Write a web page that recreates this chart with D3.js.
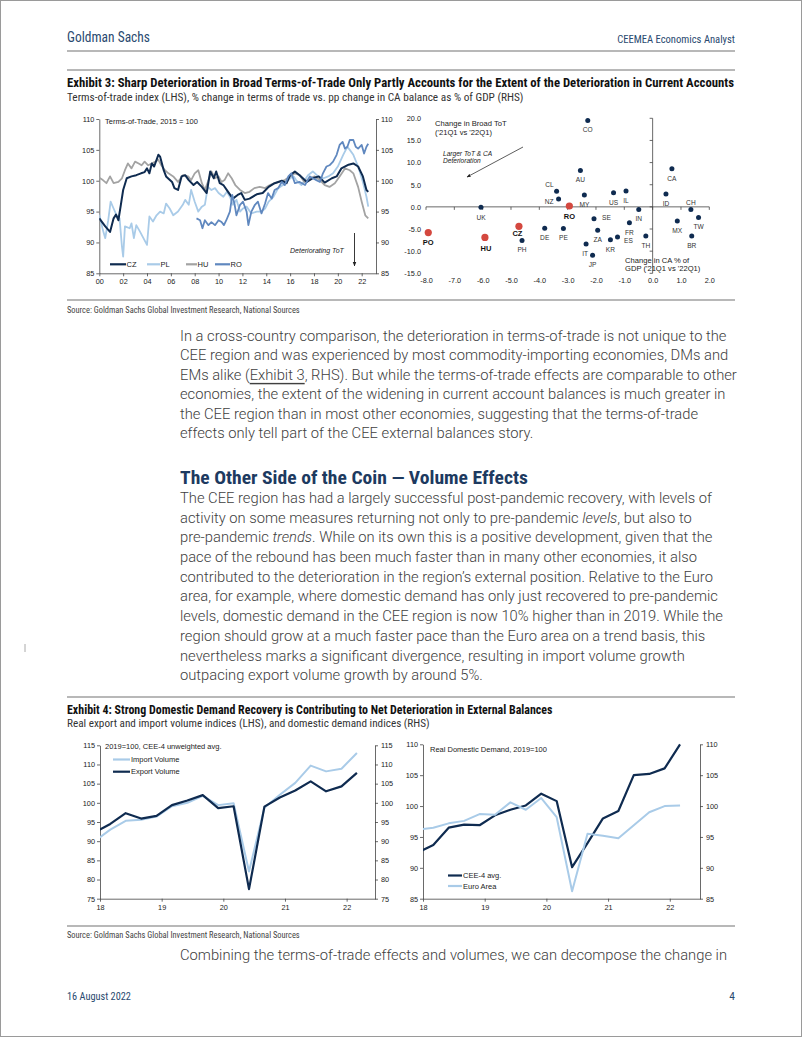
<!DOCTYPE html>
<html><head><meta charset="utf-8">
<script src="https://cdn.jsdelivr.net/npm/d3@7"></script>
<style>
body{margin:0;background:#fff}
svg{display:block}
</style>
</head><body>
<svg id="page" width="802" height="1037"></svg>
<script>
// ---------------- DATA ----------------
// Exhibit 3 LHS: terms-of-trade index, 2015 = 100 ([year, value])
const totCZ = [[2000.0,93.9],[2000.5,92.6],[2000.9,91.7],[2001.2,93.9],[2001.4,94.5],[2001.6,93.6],[2001.8,96.0],[2002.0,98.5],[2002.3,100.4],[2002.7,100.7],[2003.1,100.9],[2003.5,101.2],[2003.8,101.4],[2004.0,102.0],[2004.2,101.2],[2004.4,102.8],[2004.6,102.3],[2004.95,104.2],[2005.1,103.9],[2005.4,101.7],[2005.6,100.7],[2006.1,99.8],[2006.3,98.8],[2006.6,98.5],[2006.9,100.7],[2007.2,100.9],[2007.5,100.1],[2007.9,99.3],[2008.2,99.8],[2008.6,99.0],[2009.0,98.0],[2009.3,101.5],[2009.6,100.4],[2009.8,101.5],[2010.1,99.6],[2010.4,99.3],[2010.8,98.2],[2011.2,97.1],[2011.6,97.7],[2011.9,98.0],[2012.2,96.9],[2012.6,97.1],[2013.2,97.8],[2013.7,98.0],[2014.2,99.0],[2014.7,99.6],[2015.3,100.0],[2015.7,99.6],[2016.0,100.9],[2016.4,101.5],[2016.8,100.9],[2017.4,99.8],[2017.9,100.4],[2018.4,100.7],[2018.9,99.7],[2019.5,100.4],[2019.9,100.7],[2020.3,102.0],[2020.9,102.6],[2021.3,102.8],[2021.7,102.3],[2022.1,100.7],[2022.4,98.5],[2022.55,98.2]];
const totPL = [[2000.0,94.5],[2000.3,92.0],[2000.5,90.7],[2000.75,93.6],[2000.95,96.6],[2001.2,95.5],[2001.45,94.4],[2001.7,93.9],[2001.9,89.3],[2002.0,87.7],[2002.15,92.6],[2002.55,92.3],[2002.7,93.1],[2002.9,90.7],[2003.1,92.8],[2003.4,91.8],[2003.7,90.7],[2004.0,89.6],[2004.2,94.2],[2004.5,93.4],[2004.8,94.4],[2005.1,95.0],[2005.4,94.7],[2005.6,96.3],[2005.9,95.5],[2006.2,94.4],[2006.6,95.0],[2007.0,96.1],[2007.2,96.9],[2007.5,96.1],[2007.7,98.5],[2008.0,96.6],[2008.3,95.0],[2008.6,95.8],[2008.85,96.1],[2009.1,99.0],[2009.4,98.5],[2009.7,98.8],[2010.0,98.0],[2010.4,97.4],[2010.7,98.2],[2010.95,97.4],[2011.2,96.1],[2011.5,96.9],[2011.8,95.0],[2012.05,95.5],[2012.35,95.8],[2012.75,94.7],[2013.2,95.0],[2013.6,95.0],[2013.9,95.5],[2014.2,96.6],[2014.6,97.4],[2015.0,98.8],[2015.4,99.3],[2015.7,99.8],[2016.0,100.4],[2016.3,100.7],[2016.5,100.1],[2016.95,99.3],[2017.5,100.9],[2017.9,101.5],[2018.35,100.7],[2018.8,100.4],[2019.2,100.7],[2019.6,101.2],[2020.0,102.3],[2020.45,104.2],[2020.8,105.5],[2021.0,105.0],[2021.3,104.2],[2021.7,102.3],[2022.1,99.8],[2022.4,97.4],[2022.55,95.8]];
const totHU = [[2000.0,100.5],[2000.3,100.1],[2000.6,99.6],[2000.9,100.7],[2001.2,99.6],[2001.6,99.8],[2001.9,100.4],[2002.15,101.7],[2002.4,102.8],[2002.7,102.0],[2003.0,103.1],[2003.3,102.8],[2003.55,102.5],[2003.8,103.1],[2004.1,102.5],[2004.4,102.8],[2004.7,103.1],[2004.95,103.4],[2005.2,102.5],[2005.5,101.7],[2005.8,101.2],[2006.2,100.7],[2006.6,99.8],[2007.0,100.9],[2007.45,100.7],[2007.7,100.1],[2008.0,101.2],[2008.3,101.7],[2008.6,99.6],[2008.85,98.5],[2009.1,99.8],[2009.4,101.5],[2009.7,100.4],[2010.0,100.7],[2010.25,99.8],[2010.5,100.1],[2010.8,101.2],[2011.1,100.4],[2011.4,99.3],[2011.8,98.5],[2012.2,98.0],[2012.6,98.2],[2013.0,98.8],[2013.45,99.0],[2013.9,98.8],[2014.3,99.3],[2014.7,99.6],[2015.1,99.8],[2015.55,100.1],[2016.0,100.7],[2016.4,101.2],[2016.8,100.9],[2017.2,99.8],[2017.65,100.4],[2018.05,100.7],[2018.5,100.1],[2018.9,99.3],[2019.3,99.0],[2019.75,99.6],[2020.15,100.7],[2020.6,102.0],[2021.0,101.7],[2021.3,101.2],[2021.7,99.0],[2022.0,96.6],[2022.3,94.4],[2022.55,93.9]];
const totRO = [[2008.15,93.9],[2008.45,93.6],[2008.65,92.3],[2008.85,93.6],[2009.15,92.8],[2009.4,93.3],[2009.7,92.8],[2010.0,93.6],[2010.25,93.3],[2010.45,92.8],[2010.65,93.6],[2010.95,95.0],[2011.15,97.7],[2011.35,96.1],[2011.5,94.4],[2011.8,96.1],[2012.05,96.6],[2012.35,95.0],[2012.5,92.8],[2012.75,95.0],[2013.05,96.1],[2013.3,96.6],[2013.6,94.7],[2013.9,96.3],[2014.15,98.0],[2014.45,97.1],[2014.7,98.5],[2015.0,98.8],[2015.3,99.8],[2015.55,99.3],[2015.85,100.7],[2016.1,101.2],[2016.4,99.6],[2016.8,99.8],[2017.25,99.3],[2017.65,100.7],[2017.9,100.4],[2018.2,100.1],[2018.5,99.8],[2018.75,101.2],[2019.05,102.3],[2019.3,102.5],[2019.6,103.1],[2019.9,104.2],[2020.15,105.8],[2020.4,106.3],[2020.6,105.2],[2020.8,105.5],[2021.0,106.6],[2021.3,106.6],[2021.5,105.5],[2021.7,105.2],[2022.0,105.8],[2022.2,104.4],[2022.4,105.5],[2022.55,106.0]];
const totNames = ["CZ","PL","HU","RO"];
const totTicksY = [85,90,95,100,105,110];
const totTicksX = [2000,2002,2004,2006,2008,2010,2012,2014,2016,2018,2020,2022];

// Exhibit 3 RHS: change in CA % of GDP (x) vs change in broad ToT (y)
const scatterCodes = ["CO","AU","CA","CL","NZ","MY","US","IL","ID","CH","UK","RO","SE","IN","MX","TW","FR","CZ","DE","PE","ZA","TH","BR","PO","HU","PH","ES","KR","IT","JP"];
const caChange  = [-2.29,-2.55,0.68,-3.39,-3.32,-2.41,-1.38,-0.94,0.47,1.35,-6.06,-2.94,-2.07,-0.49,0.87,1.62,-0.82,-4.72,-3.81,-3.15,-1.94,-0.24,1.38,-7.92,-5.92,-4.61,-1.24,-1.49,-2.35,-2.12];
const totChange = [19.5,8.2,8.6,3.5,1.8,2.7,3.2,3.6,2.9,-0.6,-0.1,0.2,-2.7,-0.6,-3.2,-2.4,-3.6,-4.4,-4.8,-4.9,-5.3,-6.6,-6.6,-5.8,-6.9,-7.6,-6.8,-7.4,-8.4,-10.9];
const ceeCodes = ["PO","HU","CZ","RO"];
const scatterTicksX = [-8,-7,-6,-5,-4,-3,-2,-1,0,1,2];
const scatterTicksY = [-15,-10,-5,0,5,10,15,20];

// Exhibit 4: quarterly indices, 2019 = 100
const quarters  = ["2017Q4","2018Q1","2018Q2","2018Q3","2018Q4","2019Q1","2019Q2","2019Q3","2019Q4","2020Q1","2020Q2","2020Q3","2020Q4","2021Q1","2021Q2","2021Q3","2021Q4","2022Q1"];
const importVol = [90.0,93.0,95.3,95.6,96.4,99.1,100.0,101.8,99.4,99.9,82.1,98.7,102.1,105.2,109.7,108.2,108.9,113.0];
const exportVol = [92.3,94.5,97.3,95.9,96.6,99.4,100.6,102.0,98.6,99.1,77.5,99.0,101.4,103.2,105.6,103.0,104.3,107.8];
const ceeDemand = [92.5,93.7,96.5,97.0,96.9,98.5,99.4,100.1,102.0,100.8,90.1,94.0,98.0,99.2,105.0,105.2,106.1,110.0];
const euroDemand= [96.2,96.5,97.2,97.6,98.7,98.6,100.6,99.4,101.3,98.2,86.2,95.5,95.2,94.8,96.9,99.0,100.0,100.1];
const volTicksY = [75,80,85,90,95,100,105,110,115];
const ddTicksY = [85,90,95,100,105,110];
const yearTicks = [2018,2019,2020,2021,2022];

// ---------------- STYLE ----------------
const C = {navy:"#0f2b50", light:"#a9cbe8", gray:"#a3a3a3", mid:"#6088bf", red:"#d4483f", head:"#2a4a70", body:"#404040", axis:"#444", rule:"#a0a0a0"};
const NARROW = "'Roboto Condensed','Liberation Sans Narrow','Liberation Sans',Arial,sans-serif";
const SANS = "'Liberation Sans',Arial,sans-serif";
const LIGHT = "Roboto,'Liberation Sans',Arial,sans-serif";

const svg = d3.select("#page");
svg.append("rect").attr("width",802).attr("height",1037).attr("fill","#fff");
svg.append("rect").attr("x",0.5).attr("y",0.5).attr("width",801).attr("height",1036).attr("fill","none").attr("stroke","#9a9a9a");

// text fitted to a measured width by horizontal scaling
function fit(g, x, y, str, width, size, opt={}) {
  const t = g.append("text").attr("x",0).attr("y",0).attr("font-family",opt.family||NARROW)
    .attr("font-size",size).attr("font-weight",opt.weight||"normal").attr("fill",opt.fill||"#222")
    .attr("dominant-baseline","central").attr("transform",`translate(${x},${y})`).text(str);
  if (opt.anchor) t.attr("text-anchor",opt.anchor);
  if (opt.italic) t.attr("font-style","italic");
  if (width) {
    const w = t.node().getComputedTextLength();
    t.attr("transform",`translate(${x},${y}) scale(${width/w},1)`);
  }
  return t;
}
function rule(y, x0=67, x1=735, w=1.3) {
  svg.append("line").attr("x1",x0).attr("x2",x1).attr("y1",y).attr("y2",y).attr("stroke",C.rule).attr("stroke-width",w);
}
function styleAxis(sel, size=7.3) {
  sel.attr("font-family",SANS).attr("font-size",size);
  sel.selectAll("text").attr("fill","#222");
  sel.selectAll("path.domain").attr("stroke",C.axis).attr("stroke-width",0.8);
  sel.selectAll(".tick line").attr("stroke",C.axis).attr("stroke-width",0.8);
}

// ---------------- HEADER / FOOTER ----------------
fit(svg, 67, 37, "Goldman Sachs", 83, 15, {fill:C.head});
fit(svg, 735, 39, "CEEMEA Economics Analyst", 118, 11.5, {fill:C.head, anchor:"end"});
rule(51);
rule(70);
fit(svg, 67, 996, "16 August 2022", 64, 11.5, {fill:C.head});
fit(svg, 735, 996, "4", null, 11.5, {fill:C.head, anchor:"end"});
svg.append("line").attr("x1",25).attr("x2",25).attr("y1",644).attr("y2",652).attr("stroke","#aaa");

// ---------------- EXHIBIT 3 ----------------
fit(svg, 67, 83, "Exhibit 3: Sharp Deterioration in Broad Terms-of-Trade Only Partly Accounts for the Extent of the Deterioration in Current Accounts", 668, 12.5, {weight:"bold", fill:"#111"});
fit(svg, 67, 96.5, "Terms-of-trade index (LHS), % change in terms of trade vs. pp change in CA balance as % of GDP (RHS)", 457, 11.5, {fill:"#333"});
rule(300);
fit(svg, 67, 310, "Source: Goldman Sachs Global Investment Research, National Sources", 233, 8.5, {fill:"#444"});

// defs
const defs = svg.append("defs");
defs.append("marker").attr("id","arrow").attr("viewBox","0 0 10 10").attr("refX",9).attr("refY",5)
  .attr("markerWidth",5).attr("markerHeight",5).attr("orient","auto")
  .append("path").attr("d","M0,1L10,5L0,9Z").attr("fill","#222");
function clip(id,x0,y0,x1,y1){ defs.append("clipPath").attr("id",id).append("rect").attr("x",x0).attr("y",y0).attr("width",x1-x0).attr("height",y1-y0); }

// LHS line chart
{
  const x = d3.scaleLinear().domain([2000, 2023.2]).range([99.3, 376]);
  const y = d3.scaleLinear().domain([85, 110]).range([273.3, 119]);
  const g = svg.append("g");
  styleAxis(g.append("g").attr("transform",`translate(${x.range()[0]},0)`)
    .call(d3.axisLeft(y).tickValues(totTicksY).tickSize(3).tickSizeOuter(0).tickPadding(2)));
  styleAxis(g.append("g").attr("transform",`translate(${x.range()[1]},0)`)
    .call(d3.axisRight(y).tickValues(totTicksY).tickSize(3).tickSizeOuter(0).tickPadding(2)));
  styleAxis(g.append("g").attr("transform",`translate(0,${y.range()[0]})`)
    .call(d3.axisBottom(x).tickValues(totTicksX).tickFormat(d=>String(d%100).padStart(2,"0")).tickSize(3).tickSizeOuter(0).tickPadding(3)));
  clip("c3l", x.range()[0], y.range()[1]-2, x.range()[1], y.range()[0]);
  const line = d3.line().x(d=>x(d[0])).y(d=>y(d[1]));
  const series = {CZ:{d:totCZ,c:C.navy,w:2}, PL:{d:totPL,c:C.light,w:1.8}, HU:{d:totHU,c:C.gray,w:1.8}, RO:{d:totRO,c:C.mid,w:1.8}};
  const lg = g.append("g").attr("clip-path","url(#c3l)");
  ["PL","HU","CZ","RO"].forEach(k=>{
    lg.append("path").attr("d",line(series[k].d)).attr("fill","none").attr("stroke",series[k].c).attr("stroke-width",series[k].w).attr("stroke-linejoin","round");
  });
  fit(g, 105, 121.5, "Terms-of-Trade, 2015 = 100", null, 7.5, {family:SANS});
  const legX = {CZ:[110,126], PL:[147,160], HU:[186,197], RO:[215,230]};
  totNames.forEach(k=>{
    g.append("line").attr("x1",legX[k][0]).attr("x2",legX[k][1]).attr("y1",264.3).attr("y2",264.3).attr("stroke",series[k].c).attr("stroke-width",2.2);
    fit(g, legX[k][1]+0.5, 264.3, k, null, 7.5, {family:SANS});
  });
  fit(g, 290, 250, "Deteriorating ToT", null, 7, {family:SANS, italic:true});
  g.append("line").attr("x1",354.5).attr("x2",354.5).attr("y1",233).attr("y2",266).attr("stroke","#222").attr("stroke-width",0.9).attr("marker-end","url(#arrow)");
}

// RHS scatter
{
  const x = d3.scaleLinear().domain([-8, 2]).range([426, 709.3]);
  const y = d3.scaleLinear().domain([-15, 20]).range([273.3, 118.3]);
  const g = svg.append("g");
  const fmt = d => d.toFixed(1);
  const ax = g.append("g").attr("transform",`translate(${x.range()[0]},0)`)
    .call(d3.axisLeft(y).tickValues(scatterTicksY).tickFormat(fmt).tickSize(0).tickPadding(5));
  styleAxis(ax); ax.select(".domain").remove();
  const bx = g.append("g").attr("transform",`translate(0,${y.range()[0]})`)
    .call(d3.axisBottom(x).tickValues(scatterTicksX).tickFormat(fmt).tickSize(0).tickPadding(5));
  styleAxis(bx); bx.select(".domain").remove();
  g.append("line").attr("x1",x(-8)).attr("x2",x(2)).attr("y1",y(0)).attr("y2",y(0)).attr("stroke",C.axis).attr("stroke-width",0.8);
  g.append("line").attr("x1",x(0)).attr("x2",x(0)).attr("y1",y(20)).attr("y2",y(-15)).attr("stroke",C.axis).attr("stroke-width",0.8);
  scatterTicksX.forEach(v=>g.append("line").attr("x1",x(v)).attr("x2",x(v)).attr("y1",y(0)).attr("y2",y(0)+3).attr("stroke",C.axis).attr("stroke-width",0.8));
  scatterTicksY.forEach(v=>g.append("line").attr("x1",x(0)-3).attr("x2",x(0)).attr("y1",y(v)).attr("y2",y(v)).attr("stroke",C.axis).attr("stroke-width",0.8));
  fit(g, 435, 123, "Change in Broad ToT", null, 7.6, {family:SANS});
  fit(g, 435, 132, "('21Q1 vs '22Q1)", null, 7.6, {family:SANS});
  fit(g, 443, 153, "Larger ToT & CA", null, 6.6, {family:SANS, italic:true});
  fit(g, 443, 160.5, "Deterioration", null, 6.6, {family:SANS, italic:true});
  g.append("line").attr("x1",523).attr("y1",147).attr("x2",467).attr("y2",177).attr("stroke","#333").attr("stroke-width",0.8).attr("marker-end","url(#arrow)");
  fit(g, 625, 260, "Change in CA % of", null, 7.6, {family:SANS});
  fit(g, 625, 268.5, "GDP ('21Q1 vs '22Q1)", null, 7.6, {family:SANS});
  const off = {CL:[-3,-6.7], NZ:[-5,2.7], CH:[0,-7], SE:[8,-1.3], ES:[6.5,4], CZ:[-1.5,7.5], HU:[1,11], RO:[0,10.5], PO:[0,10], IT:[-1,9], UK:[0,10]};
  scatterCodes.forEach((code,i)=>{
    const cee = ceeCodes.includes(code);
    const px = x(caChange[i]), py = y(totChange[i]);
    g.append("circle").attr("cx",px).attr("cy",py).attr("r",cee?3.6:2.5).attr("fill",cee?C.red:C.navy);
    const o = off[code] || [0,9.4];
    const anchor = (code==="SE"||code==="ES") ? "start" : ((code==="CL"||code==="NZ") ? "end" : "middle");
    fit(g, px+o[0], py+o[1], code, null, cee?7.5:6.6, {family:SANS, weight:cee?"bold":"normal", anchor, fill: cee?"#111":"#333"});
  });
}

// ---------------- BODY TEXT ----------------
const para1 = [
  ["In a cross-country comparison, the deterioration in terms-of-trade is not unique to the"],
  ["CEE region and was experienced by most commodity-importing economies, DMs and"],
  ["EMs alike (", {u:"Exhibit 3"}, ", RHS). But while the terms-of-trade effects are comparable to other"],
  ["economies, the extent of the widening in current account balances is much greater in"],
  ["the CEE region than in most other economies, suggesting that the terms-of-trade"],
  ["effects only tell part of the CEE external balances story."]
];
const para2 = [
  ["The CEE region has had a largely successful post-pandemic recovery, with levels of"],
  ["activity on some measures returning not only to pre-pandemic ", {i:"levels"}, ", but also to"],
  ["pre-pandemic ", {i:"trends"}, ". While on its own this is a positive development, given that the"],
  ["pace of the rebound has been much faster than in many other economies, it also"],
  ["contributed to the deterioration in the region\u2019s external position. Relative to the Euro"],
  ["area, for example, where domestic demand has only just recovered to pre-pandemic"],
  ["levels, domestic demand in the CEE region is now 10% higher than in 2019. While the"],
  ["region should grow at a much faster pace than the Euro area on a trend basis, this"],
  ["nevertheless marks a significant divergence, resulting in import volume growth"],
  ["outpacing export volume growth by around 5%."]
];
const BODY_SIZE = 14.3;
const meas = svg.append("text").attr("font-family",LIGHT).attr("font-weight",300).attr("font-size",BODY_SIZE)
  .text("EMs alike (Exhibit 3, RHS). But while the terms-of-trade effects are comparable to other");
const bodyScale = 557 / meas.node().getComputedTextLength();
meas.remove();
function bodyLine(y, segs) {
  const t = svg.append("text").attr("transform",`translate(180,${y}) scale(${bodyScale},1)`)
    .attr("font-family",LIGHT).attr("font-weight",300).attr("font-size",BODY_SIZE).attr("fill",C.body).attr("dominant-baseline","central");
  segs.forEach(s=>{
    if (typeof s === "string") t.append("tspan").text(s);
    else if (s.u) t.append("tspan").attr("text-decoration","underline").text(s.u);
    else if (s.i) t.append("tspan").attr("font-style","italic").text(s.i);
  });
}
para1.forEach((l,i)=>bodyLine(336 + i*19.5, l));
fit(svg, 180, 478, "The Other Side of the Coin \u2014 Volume Effects", 348, 19, {weight:"bold", fill:"#1d3a60"});
para2.forEach((l,i)=>bodyLine(498 + i*19.7, l));
bodyLine(955, ["Combining the terms-of-trade effects and volumes, we can decompose the change in"]);

// ---------------- EXHIBIT 4 ----------------
rule(697);
fit(svg, 67, 709.5, "Exhibit 4: Strong Domestic Demand Recovery is Contributing to Net Deterioration in External Balances", 486, 12.5, {weight:"bold", fill:"#111"});
fit(svg, 67, 722.5, "Real export and import volume indices (LHS), and domestic demand indices (RHS)", 363, 11.5, {fill:"#333"});
rule(926);
fit(svg, 67, 935, "Source: Goldman Sachs Global Investment Research, National Sources", 233, 8.5, {fill:"#444"});

const qToYear = s => +s.slice(0,4) + (3*(+s.slice(5)) - 1)/12;

function quarterChart(cfg) {
  const x = d3.scaleLinear().domain(cfg.xdom).range(cfg.xr);
  const y = d3.scaleLinear().domain(cfg.ydom).range(cfg.yr);
  const g = svg.append("g");
  styleAxis(g.append("g").attr("transform",`translate(${cfg.xr[0]},0)`)
    .call(d3.axisLeft(y).tickValues(cfg.ticks).tickSize(3).tickSizeOuter(0).tickPadding(2)));
  styleAxis(g.append("g").attr("transform",`translate(${cfg.xr[1]},0)`)
    .call(d3.axisRight(y).tickValues(cfg.ticks).tickSize(3).tickSizeOuter(0).tickPadding(3)));
  styleAxis(g.append("g").attr("transform",`translate(0,${cfg.yr[0]})`)
    .call(d3.axisBottom(x).tickValues(yearTicks).tickFormat(d=>String(d%100)).tickSize(3).tickSizeOuter(0).tickPadding(3)));
  clip(cfg.id, cfg.xr[0], cfg.yr[1]-3, cfg.xr[1], cfg.yr[0]);
  const lg = g.append("g").attr("clip-path",`url(#${cfg.id})`);
  cfg.series.forEach(s=>{
    const line = d3.line().x((d,i)=>x(qToYear(quarters[i]))).y(d=>y(d));
    lg.append("path").attr("d",line(s.v)).attr("fill","none").attr("stroke",s.c).attr("stroke-width",s.w).attr("stroke-linejoin","round");
  });
  fit(g, cfg.titleX, cfg.titleY, cfg.title, null, 7.5, {family:SANS});
  cfg.series.forEach((s,i)=>{
    const ly = cfg.legY[i];
    g.append("line").attr("x1",cfg.legX[0]).attr("x2",cfg.legX[1]).attr("y1",ly).attr("y2",ly).attr("stroke",s.c).attr("stroke-width",2.2);
    fit(g, cfg.legX[1]+1, ly, s.name, null, 7.5, {family:SANS});
  });
}
quarterChart({id:"c4l", xdom:[2018,2022.46], xr:[100,375], ydom:[75,115], yr:[898.7,745.3], ticks:volTicksY,
  title:"2019=100, CEE-4 unweighted avg.", titleX:105, titleY:746.5,
  legX:[113,130], legY:[759.5,771.7],
  series:[{name:"Import Volume", v:importVol, c:C.light, w:2},{name:"Export Volume", v:exportVol, c:C.navy, w:2.2}]});
quarterChart({id:"c4r", xdom:[2018,2022.49], xr:[423,700], ydom:[85,110], yr:[898.7,744.3], ticks:ddTicksY,
  title:"Real Domestic Demand, 2019=100", titleX:430, titleY:749,
  legX:[448,462], legY:[875.5,886],
  series:[{name:"CEE-4 avg.", v:ceeDemand, c:C.navy, w:2.2},{name:"Euro Area", v:euroDemand, c:C.light, w:2}]});
</script>
</body></html>
